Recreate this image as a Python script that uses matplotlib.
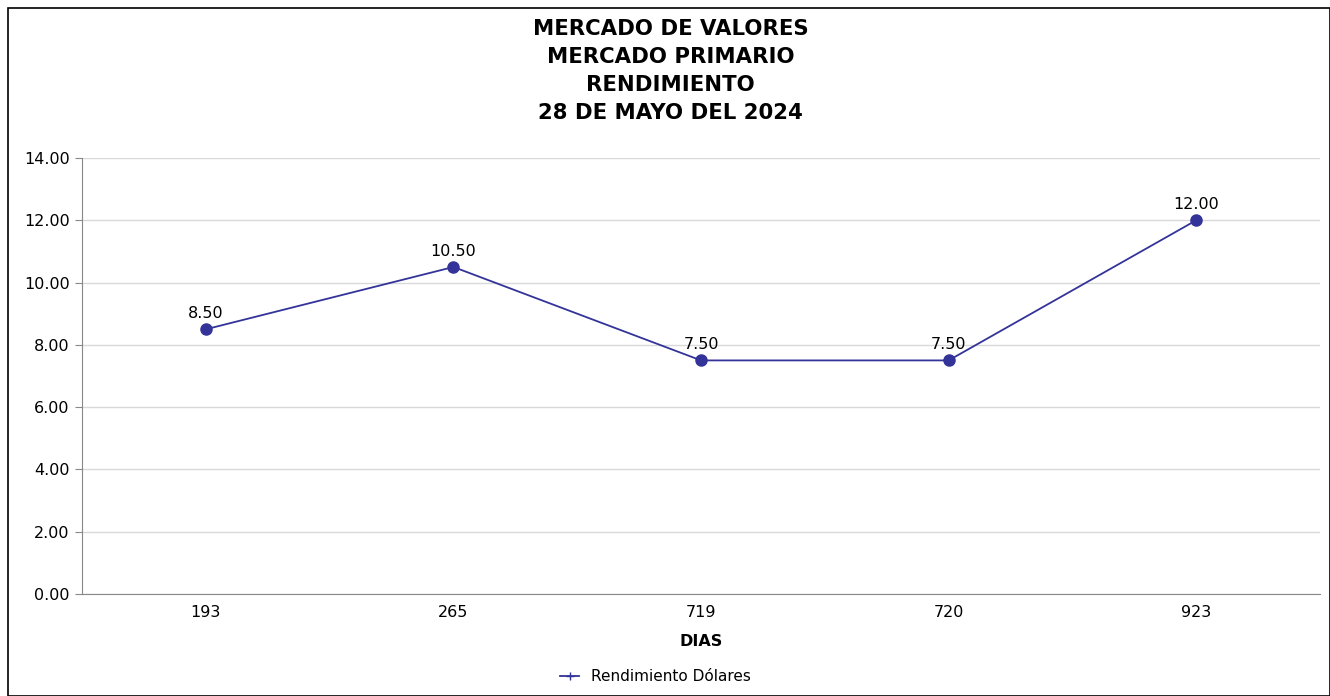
import matplotlib.pyplot as plt
import matplotlib.patches as mpatches
from matplotlib.lines import Line2D

# datos
dias = ["193", "265", "719", "720", "923"]
rendimiento = [8.50, 10.50, 7.50, 7.50, 12.00]
yticks = [0, 2, 4, 6, 8, 10, 12, 14]

color = "#333399"

plt.rcParams['font.family'] = ['DejaVu Sans']

fig = plt.figure(figsize=(13.3, 6.96), dpi=100)
ax = fig.add_axes([0.0617, 0.1466, 0.9308, 0.6264])

x = range(len(dias))
ax.plot(x, rendimiento, color=color, lw=1.3, marker="o", ms=8, zorder=3)
for xi, yi in zip(x, rendimiento):
    ax.annotate(f"{yi:.2f}", (xi, yi), xytext=(0, 6), textcoords="offset points",
                ha="center", va="bottom", fontsize=11.5)

ax.set_xlim(-0.5, len(dias) - 0.5)
ax.set_ylim(0, 14)
ax.set_xticks(list(x))
ax.set_xticklabels(dias, fontsize=11.5)
ax.set_yticks(yticks)
ax.set_yticklabels([f"{v:.2f}" for v in yticks], fontsize=11.5)
ax.grid(axis="y", color="#d9d9d9", lw=1)
ax.set_axisbelow(True)
for s in ["top", "right"]:
    ax.spines[s].set_visible(False)
ax.spines["left"].set_color("#888888")
ax.spines["bottom"].set_color("#888888")
ax.tick_params(axis="x", length=0, pad=8)
ax.tick_params(axis="y", length=5, color="#888888", pad=4)
ax.set_xlabel("DIAS", fontsize=11.5, fontweight="bold", labelpad=10)

fig.text(0.504, 0.973, "MERCADO DE VALORES\nMERCADO PRIMARIO\nRENDIMIENTO\n28 DE MAYO DEL 2024",
         ha="center", va="top", fontsize=15.3, fontweight="bold", linespacing=1.5)

handle = Line2D([], [], color=color, lw=1.3, marker="+", ms=6)
fig.legend([handle], ["Rendimiento Dólares"], loc="center", bbox_to_anchor=(0.493, 0.028),
           frameon=False, fontsize=11, handlelength=1.2)

fig.add_artist(mpatches.Rectangle((0.006, 0.0), 0.994, 0.989, transform=fig.transFigure,
                                  fill=False, edgecolor="black", lw=1.2))

fig.savefig("out.png", dpi=100)
